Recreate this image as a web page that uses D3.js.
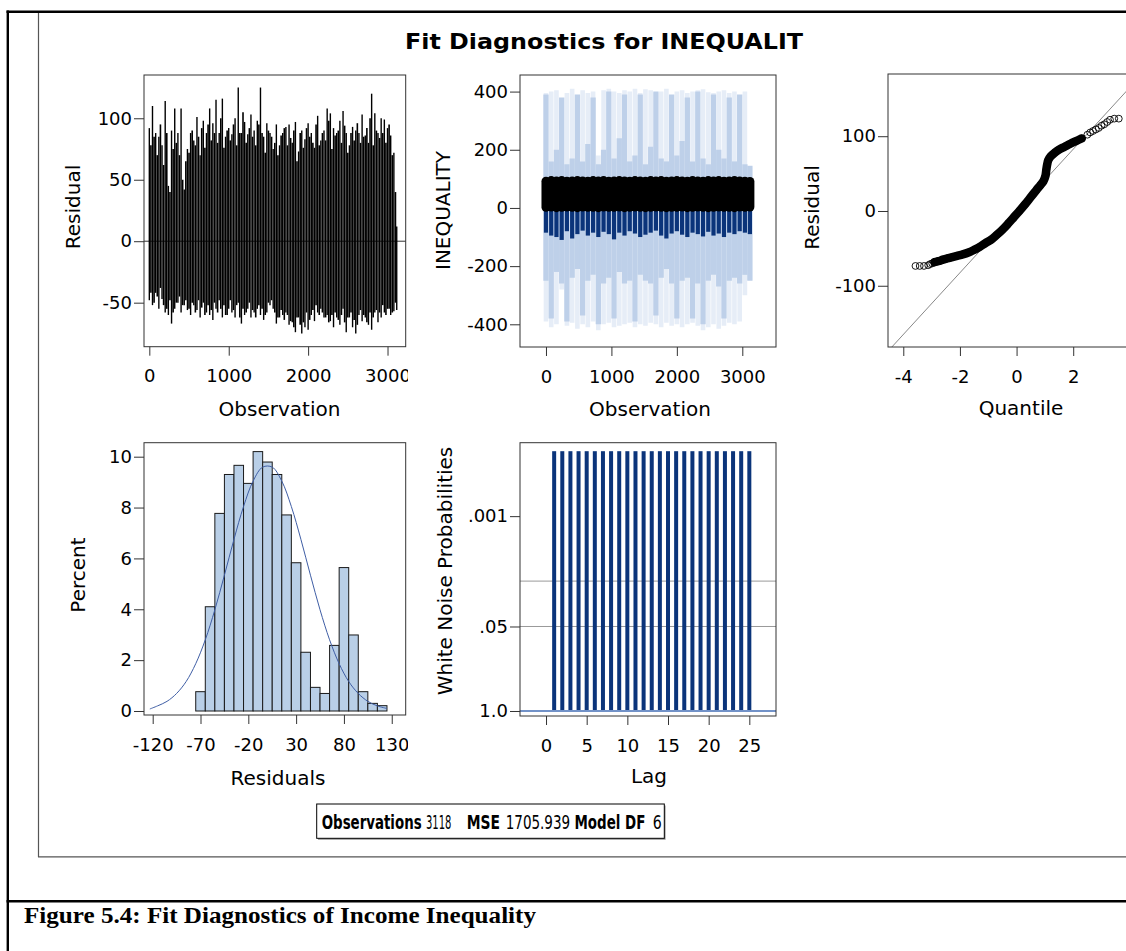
<!DOCTYPE html>
<html>
<head>
<meta charset="utf-8">
<script src="https://cdn.jsdelivr.net/npm/d3@7"></script>
<style>
  body { margin: 0; background: #fff; }
  svg { display: block; }
</style>
</head>
<body>
<svg id="chart"></svg>
<script>
// --- residual by observation (binned needles)
const binObs = [0,40,80,120,160,200,240,280,320,360,400,440,480,520,560,600,640,680,720,760,800,840,880,920,960,1000,1040,1080,1120,1160,1200,1240,1280,1320,1360,1400,1440,1480,1520,1560,1600,1640,1680,1720,1760,1800,1840,1880,1920,1960,2000,2040,2080,2120,2160,2200,2240,2280,2320,2360,2400,2440,2480,2520,2560,2600,2640,2680,2720,2760,2800,2840,2880,2920,2960,3000,3040,3080,3116];
const residHigh = [92,110,88,85,78,114,45,90,108,88,108,42,75,88,82,101,70,98,88,108,96,115,88,116,85,92,87,100,125,88,97,87,103,90,98,125,85,96,88,75,95,78,88,93,95,80,97,73,90,83,96,88,76,102,82,90,108,104,92,88,98,106,88,78,93,90,88,103,86,80,120,104,88,100,99,92,86,72,12];
const residLow = [-48,-52,-42,-55,-47,-58,-60,-67,-55,-50,-58,-52,-56,-60,-52,-56,-62,-50,-58,-60,-64,-55,-48,-62,-60,-55,-58,-62,-50,-67,-60,-55,-62,-58,-55,-60,-64,-58,-52,-55,-67,-62,-60,-58,-68,-66,-74,-62,-75,-70,-72,-60,-65,-58,-55,-62,-60,-65,-70,-62,-68,-55,-74,-62,-70,-75,-60,-65,-62,-68,-72,-58,-66,-62,-58,-55,-60,-57,-56];
// in-between bins
const binObs2 = [20,60,100,140,180,220,260,300,340,380,420,460,500,540,580,620,660,700,740,780,820,860,900,940,980,1020,1060,1100,1140,1180,1220,1260,1300,1340,1380,1420,1460,1500,1540,1580,1620,1660,1700,1740,1780,1820,1860,1900,1940,1980,2020,2060,2100,2140,2180,2220,2260,2300,2340,2380,2420,2460,2500,2540,2580,2620,2660,2700,2740,2780,2820,2860,2900,2940,2980,3020,3060,3100];
const residHigh2 = [78,85,70,95,62,88,40,75,80,70,50,65,72,90,78,85,92,76,95,82,88,80,100,76,90,82,95,78,88,105,80,92,85,78,95,88,72,90,85,80,70,86,92,78,84,90,65,88,76,92,85,80,95,78,88,82,98,75,86,90,80,94,72,88,82,96,80,85,92,100,78,90,84,88,80,95,70,40];
const residLow2 = [-42,-50,-45,-38,-52,-55,-48,-58,-50,-45,-52,-48,-55,-50,-58,-48,-54,-60,-52,-56,-50,-58,-55,-52,-60,-48,-56,-52,-62,-55,-58,-50,-56,-62,-52,-55,-60,-50,-48,-58,-62,-56,-64,-60,-65,-70,-62,-68,-66,-58,-64,-56,-52,-60,-58,-62,-66,-60,-58,-64,-60,-66,-62,-58,-64,-68,-56,-60,-66,-58,-62,-56,-58,-52,-60,-55,-58,-50];

// --- INEQUALITY by observation (coarser bins)
const obsCoarse = [0,80,160,240,320,400,480,560,640,720,800,880,960,1040,1120,1200,1280,1360,1440,1520,1600,1680,1760,1840,1920,2000,2080,2160,2240,2320,2400,2480,2560,2640,2720,2800,2880,2960,3040,3116];
const predUpper = [395,400,405,300,395,410,250,405,395,400,180,405,410,400,395,405,400,410,395,408,405,395,400,410,250,400,405,395,400,405,408,398,395,400,405,395,400,160,400,140];
const predLower = [-390,-410,-400,-280,-405,-395,-415,-400,-410,-390,-420,-400,-395,-410,-405,-400,-395,-410,-400,-405,-395,-400,-410,-395,-405,-400,-410,-400,-395,-405,-420,-410,-400,-415,-405,-395,-400,-390,-300,-250];
const confUpper = [390,160,200,380,150,170,390,160,220,380,150,200,400,170,240,390,160,180,390,150,210,400,170,160,390,180,230,380,160,400,170,150,390,200,170,380,160,390,150,145];
const confLower = [-250,-380,-220,-260,-390,-240,-210,-370,-250,-230,-400,-260,-240,-380,-220,-260,-250,-390,-230,-250,-260,-370,-240,-210,-260,-380,-250,-240,-380,-260,-400,-250,-230,-270,-380,-250,-240,-260,-230,-250];
const fitLow = [-85,-95,-100,-110,-80,-105,-90,-78,-95,-85,-100,-82,-90,-108,-85,-95,-80,-88,-100,-92,-85,-78,-95,-105,-88,-80,-92,-100,-85,-90,-98,-82,-95,-88,-100,-85,-90,-80,-85,-90];
const ineqMax = [92,94,93,94,92,93,94,93,92,94,93,94,92,93,94,93,92,94,93,92,94,93,94,92,93,94,93,92,94,93,92,94,93,94,92,93,94,93,92,91];
const ineqMin = [2,3,1,2,3,2,1,3,2,2,1,3,2,2,3,1,2,3,2,1,2,3,2,1,2,2,3,1,2,3,2,1,2,3,2,2,1,3,2,3];

// --- Q-Q plot
const qqQuantile = [-3.57,-3.42,-3.27,-3.12,-3.05,-2.98,-2.9,-2.8,-2.7,-2.6,-2.45,-2.3,-2.1,-1.9,-1.7,-1.5,-1.3,-1.1,-0.9,-0.7,-0.5,-0.3,-0.1,0.1,0.3,0.5,0.7,0.85,0.95,1.02,1.05,1.08,1.12,1.2,1.35,1.5,1.7,1.9,2.1,2.3,2.5,2.6,2.7,2.8,2.9,3.0,3.1,3.2,3.3,3.45,3.61];
const qqResidual = [-73.5,-73.5,-73.5,-72.5,-71,-70,-68.5,-67.5,-66.5,-65,-63.5,-62,-60,-58,-55.5,-52,-48,-43,-38.5,-32,-25,-17,-8.5,0,9,18.5,28,35,40,47,55,62,68,73,78,82,86,90,93.5,97,102,105,107,109,111,114,116,119,122,123.5,123.5];
const refSlope = 41.3; // root MSE

// --- residual histogram
const histMid = [-70,-60,-50,-40,-30,-20,-10,0,10,20,30,40,50,60,70,80,90,100,110,120];
const histPct = [0.76,4.1,7.77,9.3,9.66,8.95,10.2,9.79,9.3,7.71,5.83,2.31,0.93,0.69,2.58,5.64,2.99,0.76,0.3,0.21];
const curveRes = [-123,-115,-105,-95,-85,-75,-65,-55,-45,-35,-25,-15,-5,5,15,25,35,45,55,65,75,85,95,105,115,125];
const curvePct = [0.08,0.2,0.38,0.69,1.16,1.86,2.8,3.98,5.34,6.75,8.04,9.04,9.59,9.59,9.04,8.04,6.75,5.34,3.98,2.8,1.86,1.16,0.69,0.38,0.2,0.1];

// --- white noise
const lags = [1,2,3,4,5,6,7,8,9,10,11,12,13,14,15,16,17,18,19,20,21,22,23,24,25];
const wnProb = [0.0001,0.0001,0.0001,0.0001,0.0001,0.0001,0.0001,0.0001,0.0001,0.0001,0.0001,0.0001,0.0001,0.0001,0.0001,0.0001,0.0001,0.0001,0.0001,0.0001,0.0001,0.0001,0.0001,0.0001,0.0001];

// --- fit statistics
const statLabels = ['Observations', 'MSE', 'Model DF'];
const statValues = ['3118', '1705.939', '6'];

const navy = '#0b347a';
const frameColor = '#333';
const sans = "'DejaVu Sans', Verdana, sans-serif";
const plain = d => String(d);

const svg = d3.select('#chart').attr('width', 1126).attr('height', 951)
    .style('font-family', sans);
const defs = svg.append('defs');
defs.append('clipPath').attr('id', 'clipLeft')
    .append('rect').attr('x', 0).attr('y', 0).attr('width', 408).attr('height', 951);

// page rules (document table + graph border)
const page = svg.append('g');
function rule(x1, y1, x2, y2, color, w) {
    page.append('line').attr('x1', x1).attr('y1', y1).attr('x2', x2).attr('y2', y2)
        .attr('stroke', color).attr('stroke-width', w);
}
rule(6.5, 11.7, 1126, 11.7, '#000', 2.6);
rule(7.8, 10.5, 7.8, 951, '#000', 2.4);
rule(6.5, 901.3, 1126, 901.3, '#000', 2.6);
rule(38.5, 13, 38.5, 857, '#555', 1.2);
rule(38, 856.8, 1126, 856.8, '#555', 1.2);

svg.append('text')
    .attr('x', 604).attr('y', 48.5)
    .attr('text-anchor', 'middle')
    .attr('textLength', 398).attr('lengthAdjust', 'spacingAndGlyphs')
    .style('font-size', '21.5px').style('font-weight', 'bold')
    .text('Fit Diagnostics for INEQUALIT');

function axes(g, x, y, box, xTicks, yTicks, fmtX, fmtY) {
    const ax = g.append('g').attr('transform', `translate(0,${box.bottom})`)
        .call(d3.axisBottom(x).tickValues(xTicks).tickSize(9).tickSizeOuter(0).tickPadding(14).tickFormat(fmtX || plain));
    const ay = g.append('g').attr('transform', `translate(${box.left},0)`)
        .call(d3.axisLeft(y).tickValues(yTicks).tickSize(10).tickSizeOuter(0).tickPadding(2).tickFormat(fmtY || plain));
    [ax, ay].forEach(a => {
        a.attr('font-family', null).attr('font-size', null);
        a.select('.domain').remove();
        a.selectAll('line').attr('stroke', frameColor);
        a.selectAll('text').style('font-size', '18px').style('font-family', sans).attr('fill', '#000');
    });
    g.append('rect')
        .attr('x', box.left).attr('y', box.top)
        .attr('width', box.right - box.left).attr('height', box.bottom - box.top)
        .attr('fill', 'none').attr('stroke', frameColor).attr('stroke-width', 1);
}
function xLabel(g, cx, by, t) {
    g.append('text').attr('x', cx).attr('y', by).attr('text-anchor', 'middle')
        .style('font-size', '20px').text(t);
}
function yLabel(g, bx, cy, t) {
    g.append('text').attr('transform', `translate(${bx},${cy}) rotate(-90)`)
        .attr('text-anchor', 'middle').style('font-size', '20px').text(t);
}

// ---------- panel 1: residual by observation
const box1 = { left: 144, top: 75, right: 405.7, bottom: 346.7 };
const g1 = svg.append('g').attr('clip-path', 'url(#clipLeft)');
const x1 = d3.scaleLinear().domain([-67, 3229]).range([box1.left, box1.right]);
const y1 = d3.scaleLinear().domain([-85.8, 135.2]).range([box1.bottom, box1.top]);
g1.append('line').attr('x1', box1.left).attr('x2', box1.right)
    .attr('y1', y1(0)).attr('y2', y1(0)).attr('stroke', frameColor);
function needles(g, cls, xs, lo, hi, w) {
    g.selectAll('.' + cls).data(xs).enter().append('line')
        .attr('class', cls)
        .attr('x1', d => x1(d)).attr('x2', d => x1(d))
        .attr('y1', (d, i) => y1(lo[i])).attr('y2', (d, i) => y1(hi[i]))
        .attr('stroke', '#000').attr('stroke-width', w);
}
needles(g1, 'needleB', binObs2, residLow2, residHigh2, 1.6);
needles(g1, 'needleA', binObs, residLow, residHigh, 1.4);
axes(g1, x1, y1, box1, [0, 1000, 2000, 3000], [-50, 0, 50, 100]);
xLabel(g1, 279.5, 416, 'Observation');
yLabel(g1, 80, 207, 'Residual');

// ---------- panel 2: INEQUALITY by observation
const box2 = { left: 520, top: 75, right: 776, bottom: 347 };
const g2 = svg.append('g');
const x2 = d3.scaleLinear().domain([-397, 3515]).range([box2.left, box2.right]);
const y2 = d3.scaleLinear().domain([-478, 457]).range([box2.bottom, box2.top]);
g2.selectAll('.pl').data(obsCoarse).enter().append('line')
    .attr('class', 'pl')
    .attr('x1', d => x2(d)).attr('x2', d => x2(d))
    .attr('y1', (d, i) => y2(predLower[i])).attr('y2', (d, i) => y2(predUpper[i]))
    .attr('stroke', '#e6edf7').attr('stroke-width', 4.6);
g2.selectAll('.cl').data(obsCoarse).enter().append('line')
    .attr('class', 'cl')
    .attr('x1', d => x2(d)).attr('x2', d => x2(d))
    .attr('y1', (d, i) => y2(confLower[i])).attr('y2', (d, i) => y2(confUpper[i]))
    .attr('stroke', '#bed0e9').attr('stroke-width', 5.3);
g2.selectAll('.fit').data(obsCoarse).enter().append('line')
    .attr('class', 'fit')
    .attr('x1', d => x2(d)).attr('x2', d => x2(d))
    .attr('y1', (d, i) => y2(fitLow[i])).attr('y2', y2(0))
    .attr('stroke', navy).attr('stroke-width', 4.2);
g2.selectAll('.obs').data(obsCoarse).enter().append('line')
    .attr('class', 'obs')
    .attr('x1', d => x2(d)).attr('x2', d => x2(d))
    .attr('y1', (d, i) => y2(ineqMin[i])).attr('y2', (d, i) => y2(ineqMax[i]))
    .attr('stroke', '#000').attr('stroke-width', 9).attr('stroke-linecap', 'round');
axes(g2, x2, y2, box2, [0, 1000, 2000, 3000], [-400, -200, 0, 200, 400]);
xLabel(g2, 650, 415.5, 'Observation');
yLabel(g2, 449.5, 210.5, 'INEQUALITY');

// ---------- panel 3: Q-Q plot
const box3 = { left: 888, top: 74, right: 1144, bottom: 347 };
const g3 = svg.append('g');
const x3 = d3.scaleLinear().domain([-4.54, 4.5]).range([box3.left, box3.right]);
const y3 = d3.scaleLinear().domain([-181.9, 183.2]).range([box3.bottom, box3.top]);
defs.append('clipPath').attr('id', 'clipQQ').append('rect')
    .attr('x', box3.left).attr('y', box3.top).attr('width', box3.right - box3.left).attr('height', box3.bottom - box3.top);
const qqDomain = x3.domain();
g3.append('line').attr('clip-path', 'url(#clipQQ)')
    .attr('x1', x3(qqDomain[0])).attr('y1', y3(qqDomain[0] * refSlope))
    .attr('x2', x3(qqDomain[1])).attr('y2', y3(qqDomain[1] * refSlope))
    .attr('stroke', '#888').attr('stroke-width', 1);
const qq = qqQuantile.map((q, i) => ({ q, r: qqResidual[i] }));
g3.append('path')
    .datum(qq.filter(d => d.q >= -2.9 && d.q <= 2.3))
    .attr('fill', 'none').attr('stroke', '#000').attr('stroke-width', 8.5)
    .attr('stroke-linecap', 'round').attr('stroke-linejoin', 'round')
    .attr('d', d3.line().x(d => x3(d.q)).y(d => y3(d.r)).curve(d3.curveCatmullRom));
g3.selectAll('.qq').data(qq).enter().append('circle')
    .attr('class', 'qq')
    .attr('cx', d => x3(d.q)).attr('cy', d => y3(d.r)).attr('r', 3.4)
    .attr('fill', 'none').attr('stroke', '#000').attr('stroke-width', 0.9);
axes(g3, x3, y3, box3, [-4, -2, 0, 2], [-100, 0, 100]);
xLabel(g3, 1021, 415, 'Quantile');
yLabel(g3, 818.5, 207.5, 'Residual');

// ---------- panel 4: histogram of residuals
const box4 = { left: 144, top: 442.7, right: 405.7, bottom: 715 };
const g4 = svg.append('g').attr('clip-path', 'url(#clipLeft)');
const x4 = d3.scaleLinear().domain([-129.1, 144.6]).range([box4.left, box4.right]);
const y4 = d3.scaleLinear().domain([-0.157, 10.55]).range([box4.bottom, box4.top]);
g4.selectAll('.bar').data(histMid).enter().append('rect')
    .attr('class', 'bar')
    .attr('x', d => x4(d - 5)).attr('width', d => x4(d + 5) - x4(d - 5))
    .attr('y', (d, i) => y4(histPct[i])).attr('height', (d, i) => y4(0) - y4(histPct[i]))
    .attr('fill', '#b9cfe7').attr('stroke', '#1a1a1a').attr('stroke-width', 1);
g4.append('path')
    .datum(curveRes.map((r, i) => ({ r, p: curvePct[i] })))
    .attr('fill', 'none').attr('stroke', '#3f5ea5').attr('stroke-width', 1)
    .attr('d', d3.line().x(d => x4(d.r)).y(d => y4(d.p)).curve(d3.curveCatmullRom));
axes(g4, x4, y4, box4, [-120, -70, -20, 30, 80, 130], [0, 2, 4, 6, 8, 10]);
xLabel(g4, 278, 785, 'Residuals');
yLabel(g4, 85, 575, 'Percent');

// ---------- panel 5: white noise probabilities
const box5 = { left: 520, top: 442.7, right: 776, bottom: 716 };
const g5 = svg.append('g');
const x5 = d3.scaleLinear().domain([-3.2, 28.28]).range([box5.left, box5.right]);
const y5 = d3.scaleLog().domain([1.194, 7.4e-5]).range([box5.bottom, box5.top]);
[0.05, 0.01].forEach(p => {
    g5.append('line').attr('x1', box5.left).attr('x2', box5.right)
        .attr('y1', y5(p)).attr('y2', y5(p)).attr('stroke', '#999').attr('stroke-width', 1);
});
g5.selectAll('.wn').data(lags).enter().append('rect')
    .attr('class', 'wn')
    .attr('x', d => x5(d) - 2).attr('width', 4)
    .attr('y', (d, i) => y5(wnProb[i])).attr('height', (d, i) => y5(1) - y5(wnProb[i]))
    .attr('fill', navy);
g5.append('line').attr('x1', box5.left).attr('x2', box5.right)
    .attr('y1', y5(1)).attr('y2', y5(1)).attr('stroke', '#7292c8').attr('stroke-width', 2);
const wnLabels = { 1: '1.0', 0.05: '.05', 0.001: '.001' };
axes(g5, x5, y5, box5, [0, 5, 10, 15, 20, 25], [1, 0.05, 0.001], null, d => wnLabels[d]);
xLabel(g5, 649, 783, 'Lag');
yLabel(g5, 451.5, 571, 'White Noise Probabilities');

// ---------- statistics box
const narrow = "'Liberation Sans Narrow', 'DejaVu Sans Condensed', 'Liberation Sans', sans-serif";
const stats = svg.append('g');
stats.append('rect').attr('x', 318).attr('y', 805.5).attr('width', 347.6).attr('height', 34.3).attr('fill', '#999');
stats.append('rect').attr('x', 316.7).attr('y', 804).attr('width', 347.6).attr('height', 34.3)
    .attr('fill', '#fff').attr('stroke', '#000').attr('stroke-width', 1);
// slot = [x, width] of each piece inside the box
const labelSlots = [[321.7, 100], [466.7, 33.3], [574.5, 71]];
const valueSlots = [[426, 25.5], [505.7, 64.5], [652.7, 9]];
const statParts = [];
statLabels.forEach((t, i) => statParts.push({ t, slot: labelSlots[i], b: true }));
statValues.forEach((t, i) => statParts.push({ t, slot: valueSlots[i], b: false }));
stats.selectAll('.st').data(statParts).enter().append('g')
    .attr('class', 'st')
    .each(function (d) {
        const g = d3.select(this);
        const t = g.append('text')
            .style('font-family', narrow)
            .style('font-size', '19px')
            .style('font-weight', d.b ? 'bold' : 'normal')
            .text(d.t);
        const natural = t.node().getComputedTextLength() || d.slot[1];
        g.attr('transform', `translate(${d.slot[0]},829.3) scale(${d.slot[1] / natural},1)`);
    });

// ---------- document caption
svg.append('text')
    .attr('x', 24).attr('y', 923.3)
    .attr('textLength', 512).attr('lengthAdjust', 'spacingAndGlyphs')
    .style('font-family', "'Liberation Serif', 'Times New Roman', serif")
    .style('font-size', '24px').style('font-weight', 'bold')
    .text('Figure 5.4: Fit Diagnostics of Income Inequality');
</script>
</body>
</html>
